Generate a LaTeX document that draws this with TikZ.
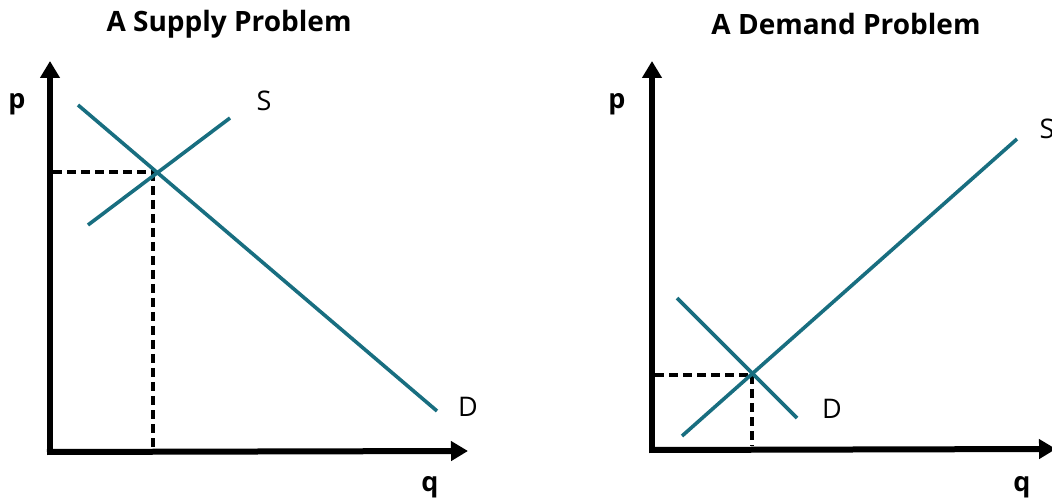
\documentclass[tikz,border=0pt]{standalone}
\usepackage{fontspec}
\setmainfont{Open Sans}
\usetikzlibrary{arrows.meta}
\definecolor{curve}{RGB}{24,110,128}
\begin{document}
\begin{tikzpicture}[x=1pt,y=-1pt,
  axis/.style={line width=6pt,-{Triangle[length=17pt,width=19pt]}},
  curveline/.style={line width=3.6pt,draw=curve},
  guide/.style={line width=3.4pt,dash pattern=on 9pt off 5pt},
  title/.style={font=\fontsize{28}{30}\selectfont\bfseries},
  axlabel/.style={font=\fontsize{27}{29}\selectfont\bfseries},
  curvelabel/.style={font=\fontsize{27}{29}\selectfont}]
\useasboundingbox (0,0) rectangle (1052,502);
% ---- Left: A Supply Problem
\node[title] (t1) at (229,24) {A Supply Problem};
\coordinate (o1) at (50,452);
\coordinate (ytop1) at (50,61);
\coordinate (xend1) at (468,451);
\draw[axis] ([yshift=3pt]o1) -- (ytop1);
\draw[axis] ([xshift=-3pt]o1) -- (xend1);
\coordinate (d1a) at (78,105);
\coordinate (d1b) at (437,411);
\coordinate (s1a) at (88,225);
\coordinate (s1b) at (230,118);
\coordinate (e1) at (155,172);
\coordinate (e1y) at (53,172);
\coordinate (e1x) at (153,448);
\draw[guide] (e1y) -- (e1);
\draw[guide] (e1) ++(-2,0) -- (e1x);
\draw[curveline] (d1a) -- (d1b);
\draw[curveline] (s1a) -- (s1b);
\node[axlabel] (p1) at (17,104) {p};
\node[axlabel] (q1) at (430,487) {q};
\node[curvelabel] (S1) at (264,101) {S};
\node[curvelabel] (D1) at (468,407) {D};
% ---- Right: A Demand Problem
\node[title] (t2) at (846,24) {A Demand Problem};
\coordinate (o2) at (652,450);
\coordinate (ytop2) at (652,61);
\coordinate (xend2) at (1056,449);
\draw[axis] ([yshift=3pt]o2) -- (ytop2);
\draw[axis] ([xshift=-3pt]o2) -- (xend2);
\coordinate (s2a) at (682,436);
\coordinate (s2b) at (1017,139);
\coordinate (d2a) at (677,298);
\coordinate (d2b) at (797,418);
\coordinate (e2) at (752,375);
\coordinate (e2y) at (655,375);
\coordinate (e2x) at (752,446);
\draw[guide] (e2y) -- (e2);
\draw[guide] (e2) -- (e2x);
\draw[curveline] (s2a) -- (s2b);
\draw[curveline] (d2a) -- (d2b);
\node[axlabel] (p2) at (617,104) {p};
\node[axlabel] (q2) at (1022,487) {q};
\node[curvelabel] (S2) at (1047,129) {S};
\node[curvelabel] (D2) at (832,409) {D};
\end{tikzpicture}
\end{document}
